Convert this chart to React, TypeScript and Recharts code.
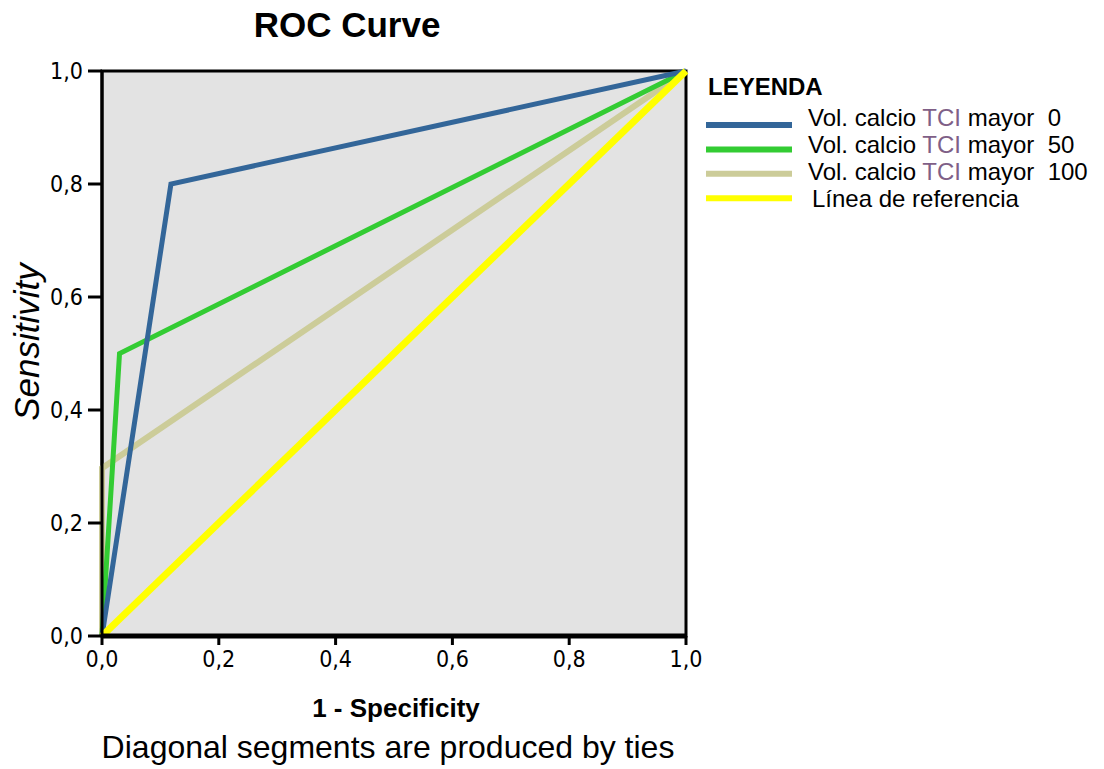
import React from 'react';
import { LineChart, Line, XAxis, YAxis, ReferenceArea } from 'recharts';

// ROC points (1 - specificity, sensitivity)
const fprMayor0 = [0, 0.118, 1];
const tprMayor0 = [0, 0.8, 1];
const fprMayor50 = [0, 0.03, 1];
const tprMayor50 = [0, 0.5, 1];
const fprMayor100 = [0, 0, 1];
const tprMayor100 = [0, 0.297, 1];
const fprRef = [0, 1];
const tprRef = [0, 1];

const axisTicks = [0, 0.2, 0.4, 0.6, 0.8, 1];
const seriesNames = ['mayor  0', 'mayor  50', 'mayor  100', 'Línea de referencia'];
const seriesColors = ['#336699', '#33cc33', '#cccc99', '#ffff00'];

const toData = (xs: number[], ys: number[]) => xs.map((x, i) => ({ x, y: ys[i] }));
const data0 = toData(fprMayor0, tprMayor0);
const data50 = toData(fprMayor50, tprMayor50);
const data100 = toData(fprMayor100, tprMayor100);
const dataRef = toData(fprRef, tprRef);

const fmt = (v: number) => v.toFixed(1).replace('.', ',');
const tickFont = { fontFamily: '"Liberation Sans Narrow", "DejaVu Sans Condensed", Arial, sans-serif', fontSize: 23, fill: '#000' };
const sans = '"Liberation Sans", Arial, sans-serif';

export default function App() {
  return (
    <div style={{ position: 'absolute', left: 0, top: 0, width: 1104, height: 769, background: '#fff' }}>
      <LineChart width={1104} height={769} margin={{ top: 71, right: 418, bottom: 93, left: 0 }}>
        <XAxis
          dataKey="x"
          type="number"
          domain={[0, 1]}
          ticks={axisTicks}
          tickFormatter={fmt}
          allowDuplicatedCategory={false}
          height={40}
          tickSize={9}
          tickMargin={6}
          axisLine={{ stroke: '#000', strokeWidth: 5 }}
          tickLine={{ stroke: '#000', strokeWidth: 3 }}
          tick={tickFont}
        />
        <YAxis
          dataKey="y"
          type="number"
          domain={[0, 1]}
          ticks={axisTicks}
          tickFormatter={fmt}
          width={102}
          tickSize={14}
          tickMargin={5}
          axisLine={{ stroke: '#000', strokeWidth: 3 }}
          tickLine={{ stroke: '#000', strokeWidth: 3 }}
          tick={tickFont}
        />
        <ReferenceArea x1={0} x2={1} y1={0} y2={1} fill="#e3e3e3" fillOpacity={1} stroke="#000" strokeWidth={3} ifOverflow="visible" />
        <Line data={data100} dataKey="y" type="linear" stroke={seriesColors[2]} strokeWidth={6} dot={false} isAnimationActive={false} />
        <Line data={data50} dataKey="y" type="linear" stroke={seriesColors[1]} strokeWidth={5} dot={false} isAnimationActive={false} />
        <Line data={data0} dataKey="y" type="linear" stroke={seriesColors[0]} strokeWidth={5} dot={false} isAnimationActive={false} />
        <Line data={dataRef} dataKey="y" type="linear" stroke={seriesColors[3]} strokeWidth={7} dot={false} isAnimationActive={false} />
      </LineChart>
      <svg width={1104} height={769} style={{ position: 'absolute', left: 0, top: 0, pointerEvents: 'none' }}>
        <text x={347} y={37} textAnchor="middle" fontFamily={sans} fontWeight="bold" fontSize={35} fill="#000">ROC Curve</text>
        <text x={39} y={342} textAnchor="middle" transform="rotate(-90 39 342)" fontFamily={sans} fontStyle="italic" fontSize={35} fill="#000">Sensitivity</text>
        <text x={396} y={717} textAnchor="middle" fontFamily={sans} fontWeight="bold" fontSize={26} fill="#000">1 - Specificity</text>
        <text x={388} y={758} textAnchor="middle" fontFamily={sans} fontSize={32} fill="#000">Diagonal segments are produced by ties</text>
        <text x={708} y={95} fontFamily={sans} fontWeight="bold" fontSize={24} fill="#000">LEYENDA</text>
        {seriesNames.map((name, i) => (
          <g key={name}>
            <line x1={706} x2={792} y1={125 + i * 24.4} y2={125 + i * 24.4} stroke={seriesColors[i]} strokeWidth={6} />
            {i < 3 ? (
              <text x={808} y={126 + i * 27} fontFamily={sans} fontSize={24} fill="#000" style={{ whiteSpace: 'pre' }}>
                Vol. calcio <tspan fill="#7f5f87">TCI</tspan> {name}
              </text>
            ) : (
              <text x={812} y={126 + i * 27} fontFamily={sans} fontSize={24} fill="#000">{name}</text>
            )}
          </g>
        ))}
      </svg>
    </div>
  );
}
